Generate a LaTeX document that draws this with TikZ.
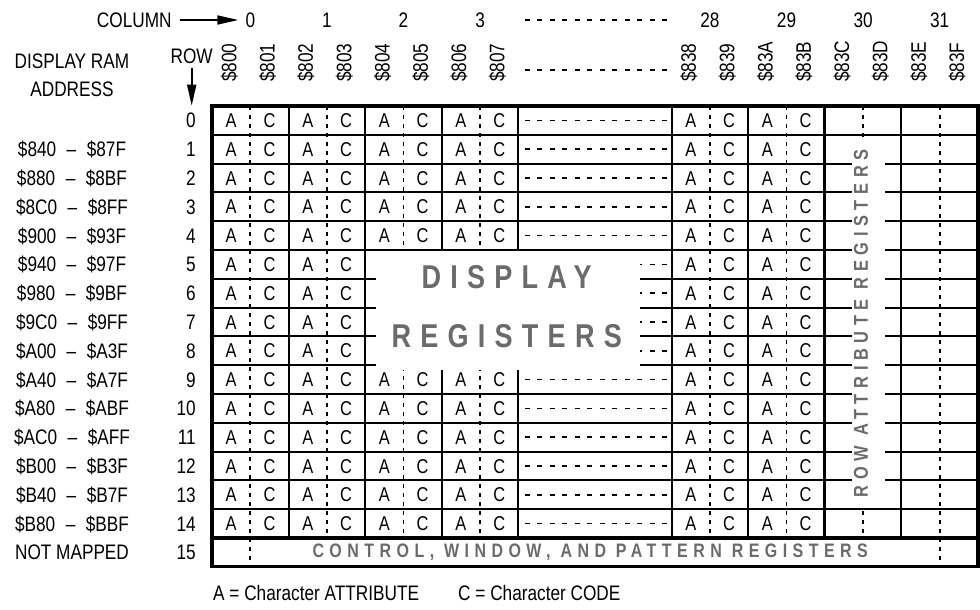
\documentclass[tikz,border=0pt]{standalone}
\usepackage{fontspec}
\setmainfont{Liberation Sans}[FakeStretch=0.82]
\newfontfamily\regfont{Liberation Sans}[FakeStretch=0.82,LetterSpace=28]
\usetikzlibrary{arrows.meta}
\definecolor{regtext}{HTML}{6B6B6B}

\begin{document}
\begin{tikzpicture}[
  x=1pt,
  y=-1pt,
  lbl/.style={font=\fontsize{21}{24}\selectfont,inner sep=0pt,text height=15pt,text depth=0pt},
  cellchar/.style={font=\fontsize{20}{23}\selectfont,inner sep=0pt,text height=14.3pt,text depth=0pt},
  addr/.style={lbl,rotate=90,anchor=west},
  regword/.style={text=regtext,inner sep=0pt,font={\regfont\bfseries\fontsize{#1}{#1}\selectfont}},
  gridline/.style={draw=black,line width=2.1pt},
  heavy/.style={draw=black,line width=3.2pt},
  halfdiv/.style={draw=black,line width=1.7pt,dash pattern=on 4pt off 5pt},
  fillers/.style={draw=black,line width=1.7pt,dash pattern=on 5pt off 7.5pt},
  blank/.style={fill=white,draw=none},
  pointer/.style={draw=black,line width=1.7pt,-{Triangle[length=21pt,width=9pt]}}
]
  \useasboundingbox (0,0) rectangle (980,610);

  % Grid in cell units: one column pair wide, one row high.
  \begin{scope}[shift={(212,106)},x=76.6pt,y=-28.8pt]
    % Attribute / code halves of every mapped character cell.
    \foreach \r in {0,1,2,3,4,9,10,11,12,13,14} {
      \foreach \c in {0,1,2,3,6,7} {
        \node[cellchar] (att\c-\r) at (\c+0.25,\r+0.5) {A};
        \node[cellchar] (code\c-\r) at (\c+0.75,\r+0.5) {C};
      }
    }
    \foreach \r in {5,6,7,8} {
      \foreach \c in {0,1,6,7} {
        \node[cellchar] (att\c-\r) at (\c+0.25,\r+0.5) {A};
        \node[cellchar] (code\c-\r) at (\c+0.75,\r+0.5) {C};
      }
    }

    % Row and column rules.
    \foreach \r in {1,...,14} {
      \draw[gridline] (0,\r) -- (10,\r);
    }
    \draw[heavy] (0,15) -- (10,15);
    \foreach \c in {1,2,3,4,6,7,9} {
      \draw[gridline] (\c,0) -- (\c,15);
    }
    \draw[heavy] (8,0) -- (8,15);

    % Dashed split between attribute and code bytes.
    \foreach \c in {1,2,3,6,7,8} {
      \draw[halfdiv] (\c+0.5,0) -- (\c+0.5,15);
    }
    \foreach \c in {0,9} {
      \draw[halfdiv] (\c+0.5,0) -- (\c+0.5,16);
    }

    % Elided columns 4 to 27.
    \foreach \r in {0,...,14} {
      \draw[fillers] (4.086,\r+0.5) -- (5.94,\r+0.5);
    }
    \draw[fillers] (4.086,-2.986) -- (5.94,-2.986);
    \draw[fillers] (4.086,-1.25) -- (5.94,-1.25);

    \draw[heavy] (0,0) rectangle (10,16);

    % White panels carrying the register captions.
    \path[blank] (2.14,5.03) rectangle (5.587,9.18);
    \path[blank] (8.355,1.06) rectangle (8.786,13.94);

    \node[regword=33,xshift=-1pt] (dispword) at (3.86,5.93) {DISPLAY};
    \node[regword=33,xshift=-1pt] (regsword) at (3.86,8.0) {REGISTERS};
    \node[regword=20,rotate=90,yshift=2pt] (rowattr) at (8.5,7.55) {ROW ATTRIBUTE REGISTERS};
    \node[regword=19.5,xshift=-1pt] (ctrlword) at (4.95,15.5) {CONTROL, WINDOW, AND PATTERN REGISTERS};

    % Column numbers and byte addresses.
    \foreach \c/\n in {0/0,1/1,2/2,3/3,6/28,7/29,8/30,9/31} {
      \node[lbl] (colnum\n) at (\c+0.5,-2.986) {\n};
    }
    \foreach \c/\lo/\hi in {0/800/801,1/802/803,2/804/805,3/806/807,6/838/839,7/83A/83B,8/83C/83D,9/83E/83F} {
      \node[addr] (adr\lo) at (\c+0.22,-0.83) {\$\lo};
      \node[addr] (adr\hi) at (\c+0.72,-0.83) {\$\hi};
    }

    % Row numbers.
    \foreach \r in {0,...,15} {
      \node[lbl,anchor=east] (rownum\r) at (-0.209,\r+0.5) {\r};
    }
  \end{scope}

  % Axis captions.
  \node[lbl] (colword) at (134.3,20) {COLUMN};
  \draw[pointer,shorten <=8pt,shorten >=7pt] (colword) -- (colnum0);
  \node[lbl] (rowword) at (191.7,56) {ROW};
  \draw[pointer,shorten <=4.5pt,shorten >=7pt] (rowword.south) -- (rowword.south |- rownum0.north);

  % RAM address ranges per row.
  \node[lbl] (ramhead) at (72,61) {DISPLAY RAM};
  \node[lbl] (ramaddr) at (72,89) {ADDRESS};
  \foreach \r/\lo/\hi in {1/840/87F,2/880/8BF,3/8C0/8FF,4/900/93F,5/940/97F,6/980/9BF,7/9C0/9FF,
      8/A00/A3F,9/A40/A7F,10/A80/ABF,11/AC0/AFF,12/B00/B3F,13/B40/B7F,14/B80/BBF} {
    \node[lbl] (range\r) at (rownum\r -| ramhead) {\$\lo\enspace–\enspace\$\hi};
  }
  \node[lbl] (unmapped) at (rownum15 -| ramhead) {NOT MAPPED};

  % Legend.
  \node[lbl,anchor=west] (legendA) at (213,593) {A = Character ATTRIBUTE};
  \node[lbl,anchor=west] (legendC) at (458,593) {C = Character CODE};
\end{tikzpicture}
\end{document}
